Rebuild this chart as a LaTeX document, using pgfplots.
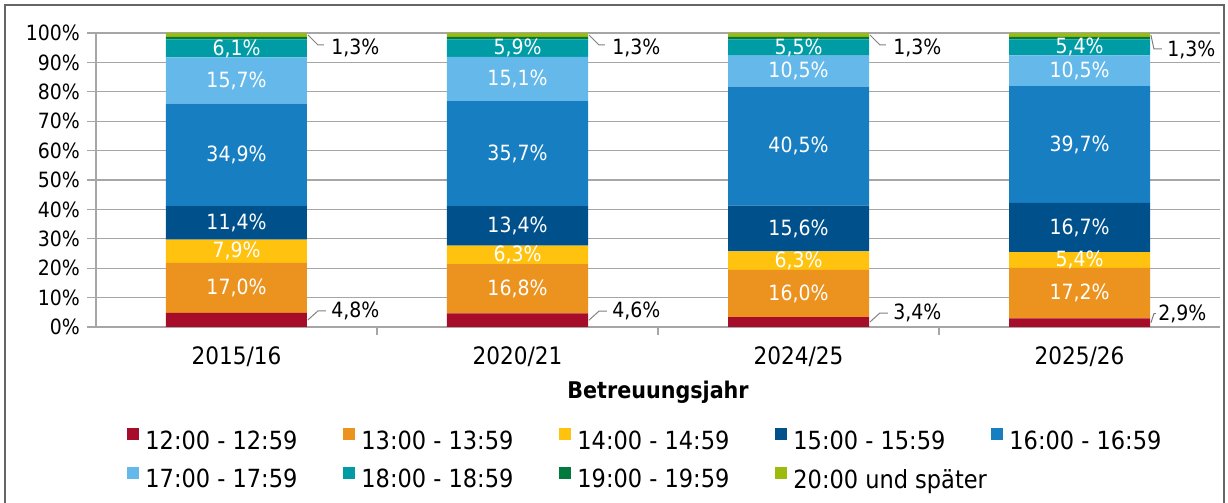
\documentclass[border=0pt]{standalone}
\usepackage{fontspec}
\setmainfont{DejaVu Sans Condensed}
\usepackage{pgfplots}
\usepackage{pgfplotstable}
\pgfplotsset{compat=1.18}

\definecolor{c12}{HTML}{A50D2B}
\definecolor{c13}{HTML}{EC921E}
\definecolor{c14}{HTML}{FFC20E}
\definecolor{c15}{HTML}{00508C}
\definecolor{c16}{HTML}{187EC2}
\definecolor{c17}{HTML}{64B8EA}
\definecolor{c18}{HTML}{009CA6}
\definecolor{c19}{HTML}{007A3D}
\definecolor{c20}{HTML}{9CBB0F}
\definecolor{rule}{HTML}{A6A6A6}

% Anteile (in %) je Betreuungsjahr, x = 0..3
\pgfplotstableread{
x  a    b    c    d    e    f    g    h    i
0  4.8  17.0 7.9  11.4 34.9 15.7 6.1  0.9  1.3
1  4.6  16.8 6.3  13.4 35.7 15.1 5.9  0.9  1.3
2  3.4  16.0 6.3  15.6 40.5 10.5 5.5  0.9  1.3
3  2.9  17.2 5.4  16.7 39.7 10.5 5.4  0.9  1.3
}\anteile

\newcommand\pct{\pgfmathprintnumber[fixed,fixed zerofill,precision=1,use comma,assume math mode=true]{\pgfplotspointmeta}\%}
\newcommand\lblfont{\fontsize{10.5}{12}\selectfont}
\newsavebox\leadbox
% leader geometry: the last bar gets a shorter leader
\newcommand\lowgeom{\ifnum\coordindex=3 \def\ldx{1.5pt}\def\ldy{4.5pt}\def\lhx{2.5pt}\def\ltx{3.5pt}\def\lty{4.5pt}%
  \else\def\ldx{5pt}\def\ldy{4.5pt}\def\lhx{9pt}\def\ltx{11.5pt}\def\lty{4.5pt}\fi}
\newcommand\topgeom{\ifnum\coordindex=3 \def\ldx{1.5pt}\def\ldy{-7pt}\def\lhx{5.5pt}\def\ltx{8pt}\def\lty{-7.5pt}%
  \else\def\ldx{5pt}\def\ldy{-5pt}\def\lhx{8pt}\def\ltx{11.5pt}\def\lty{-6.5pt}\fi}
\newcommand\lead[1]{%
  \sbox\leadbox{\pct}%
  \pgfkeys{/pgf/fpu=false}%
  #1%
  \tikz[baseline=0pt]{%
  \draw[draw=gray, fill=none, line width=0.5pt] (0pt,0pt) -- (\ldx,\ldy) -- (\lhx,\ldy);
  \node[anchor=west, inner sep=0pt, text=black, fill=none, draw=none] at (\ltx,\lty) {\usebox\leadbox};}}

\pgfplotsset{
  mid label/.style={
    nodes near coords=\pct, point meta=rawy,
    every node near coord/.append style={anchor=center, text=white, font=\lblfont}},
  side label/.style={
    nodes near coords={\lead{#1}}, point meta=rawy,
    every node near coord/.append style={anchor=base west, inner sep=0pt,
      xshift=35.25pt, font=\lblfont}},
}

\begin{document}
\begin{tikzpicture}[x=1pt,y=1pt]
\useasboundingbox (-48,-88) rectangle (566,163.5);
\draw[black!60, line width=0.6pt] (-45.5,161) rectangle (564,-95);
\begin{axis}[
  at={(0,0)}, anchor=south west,
  scale only axis, width=562pt, height=147pt,
  ybar stacked, bar width=70.5pt,
  xmin=-0.5, xmax=3.5, ymin=0, ymax=100, enlargelimits=false,
  axis lines*=left, axis line style={rule, line width=0.6pt, -},
  tick align=outside,
  xtick={0,1,2,3}, xticklabels={2015/16,2020/21,2024/25,2025/26},
  major x tick style={draw=none},
  extra x ticks={0.5,1.5,2.5}, extra x tick labels={},
  extra x tick style={major tick length=4pt, major x tick style={draw=rule, line width=0.6pt}},
  xticklabel style={font=\fontsize{12}{14}\selectfont, yshift=-2pt},
  ytick={0,10,...,100},
  yticklabels={0\%,10\%,20\%,30\%,40\%,50\%,60\%,70\%,80\%,90\%,100\%},
  yticklabel style={font=\fontsize{10.5}{12}\selectfont},
  major tick length=4.5pt,
  y tick style={draw=rule, line width=0.6pt},
  ymajorgrids, major grid style={rule, line width=0.6pt},
  xlabel={\bfseries Betreuungsjahr},
  every axis x label/.style={at={(axis description cs:0.5,0)}, yshift=-32.5pt, anchor=center,
    font=\fontsize{11.5}{13}\selectfont},
  legend columns=5,
  legend cell align=left,
  legend style={at={(0.0276,-0.3435)}, anchor=north west, draw=none, fill=none,
    inner sep=0pt, font=\fontsize{12.5}{14}\selectfont, row sep=7.5pt, column sep=0pt,
    nodes={inner sep=0pt}, /tikz/every odd column/.append style={column sep=3pt}},
  legend image code/.code={\fill[#1] (0pt,0.5pt) rectangle (6pt,6.5pt);},
]
\addplot[fill=c12, draw=none, side label=\lowgeom] table[x=x, y=a] {\anteile};
\addlegendentry{\makebox[99pt][l]{12:00 - 12:59}}
\addplot[fill=c13, draw=none, mid label] table[x=x, y=b] {\anteile};
\addlegendentry{\makebox[99pt][l]{13:00 - 13:59}}
\addplot[fill=c14, draw=none, mid label] table[x=x, y=c] {\anteile};
\addlegendentry{\makebox[99pt][l]{14:00 - 14:59}}
\addplot[fill=c15, draw=none, mid label] table[x=x, y=d] {\anteile};
\addlegendentry{\makebox[99pt][l]{15:00 - 15:59}}
\addplot[fill=c16, draw=none, mid label] table[x=x, y=e] {\anteile};
\addlegendentry{16:00 - 16:59}
\addplot[fill=c17, draw=none, mid label] table[x=x, y=f] {\anteile};
\addlegendentry{\makebox[99pt][l]{17:00 - 17:59}}
\addplot[fill=c18, draw=none, mid label] table[x=x, y=g] {\anteile};
\addlegendentry{\makebox[99pt][l]{18:00 - 18:59}}
\addplot[fill=c19, draw=none] table[x=x, y=h] {\anteile};
\addlegendentry{\makebox[99pt][l]{19:00 - 19:59}}
\addplot[fill=c20, draw=none, side label=\topgeom] table[x=x, y=i] {\anteile};
\addlegendentry{20:00 und später}
\end{axis}
\end{tikzpicture}
\end{document}
